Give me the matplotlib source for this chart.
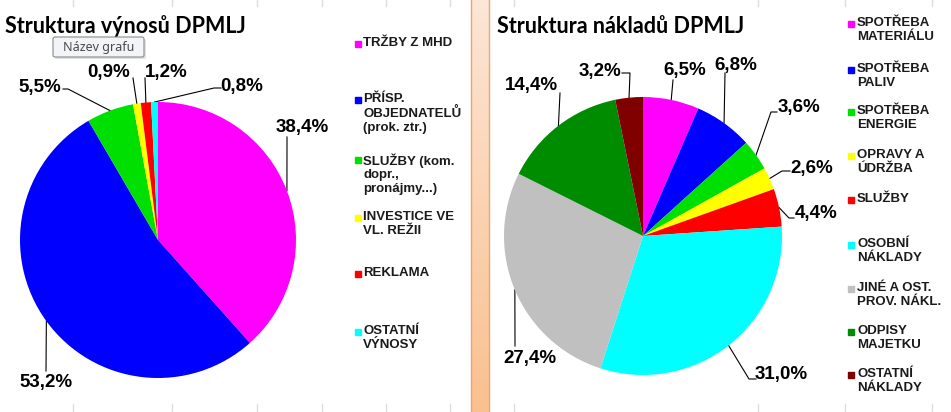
import numpy as np
import matplotlib
matplotlib.use("Agg")
import matplotlib.pyplot as plt
from matplotlib.patches import Rectangle, FancyBboxPatch

W, H = 951, 412

# data - levy graf (vynosy)
vynosy_kat = ["TRŽBY Z MHD", "PŘÍSP.\nOBJEDNATELŮ\n(prok. ztr.)",
              "SLUŽBY (kom.\ndopr.,\npronájmy...)", "INVESTICE VE\nVL. REŽII",
              "REKLAMA", "OSTATNÍ\nVÝNOSY"]
vynosy_hod = [38.4, 53.2, 5.5, 0.9, 1.2, 0.8]
vynosy_barvy = ["#FF00FF", "#0000FF", "#00E000", "#FFFF00", "#FF0000", "#00FFFF"]

# data - pravy graf (naklady)
naklady_kat = ["SPOTŘEBA\nMATERIÁLU", "SPOTŘEBA\nPALIV", "SPOTŘEBA\nENERGIE",
               "OPRAVY A\nÚDRŽBA", "SLUŽBY", "OSOBNÍ\nNÁKLADY",
               "JINÉ A OST.\nPROV. NÁKL.", "ODPISY\nMAJETKU", "OSTATNÍ\nNÁKLADY"]
naklady_hod = [6.5, 6.8, 3.6, 2.6, 4.4, 31.0, 27.4, 14.4, 3.2]
naklady_barvy = ["#FF00FF", "#0000FF", "#00E000", "#FFFF00", "#FF0000",
                 "#00FFFF", "#C0C0C0", "#008C00", "#800000"]

# pozice popisku v pixelech: (text x, text y, [body vodici cary od popisku])
vynosy_popisky = [
    (302, 127, [(287, 137)]),
    (46, 382, [(46, 371)]),
    (40, 87, [(63, 89), (68, 89)]),
    (109, 72, [(133, 78)]),
    (166, 72, [(145, 78)]),
    (242, 86, [(221, 88), (214, 88)]),
]
naklady_popisky = [
    (685, 70, [(673, 80)]),
    (736, 65, [(725, 73)]),
    (799, 107, [(777, 112), (771, 112)]),
    (812, 168, [(790, 171), (782, 171)]),
    (816, 213, [(794, 218), (789, 218)]),
    (781, 375, [(756, 379), (749, 379)]),
    (530, 358, [(515, 346)]),
    (531, 85, [(560, 93)]),
    (600, 71, [(622, 73), (630, 73)]),
]

fig = plt.figure(figsize=(W / 100, H / 100), dpi=100)
fig.patch.set_facecolor("white")
bg = fig.add_axes([0, 0, 1, 1])
bg.set_xlim(0, W)
bg.set_ylim(H, 0)
bg.axis("off")

# slabe mrizky tabulky nahore a dole
for gx in [73, 172, 257, 322, 386, 450, 514, 758, 845, 932]:
    bg.plot([gx, gx], [0, 6], color="#dedede", lw=1)
    bg.plot([gx, gx], [404, 412], color="#dedede", lw=1)

# oranzovy oddelovac s prechodem
grad = np.linspace(0, 1, 256).reshape(-1, 1)
cmap = matplotlib.colors.LinearSegmentedColormap.from_list("o", ["#FCE6D6", "#FAC08F"])
bg.imshow(grad, extent=(471, 489, H, 0), cmap=cmap, aspect="auto", zorder=1)
bg.plot([471, 471], [0, H], color="#F2A36C", lw=1, zorder=2)
bg.plot([489, 489], [0, H], color="#F2A36C", lw=1, zorder=2)


def kolac(cx, cy, r, hodnoty, barvy, popisky):
    ax = fig.add_axes([(cx - r) / W, (H - cy - r) / H, 2 * r / W, 2 * r / H])
    wedges, _ = ax.pie(hodnoty, colors=barvy, startangle=90, counterclock=False,
                       radius=1, wedgeprops=dict(linewidth=0))
    ax.set_xlim(-1, 1)
    ax.set_ylim(-1, 1)
    ax.axis("off")
    for w, v, (tx, ty, body) in zip(wedges, hodnoty, popisky):
        ang = np.deg2rad((w.theta1 + w.theta2) / 2)
        ex, ey = cx + r * np.cos(ang), cy - r * np.sin(ang)
        xs = [p[0] for p in body] + [ex]
        ys = [p[1] for p in body] + [ey]
        bg.plot(xs, ys, color="black", lw=0.8, zorder=5)
        txt = ("%.1f%%" % v).replace(".", ",")
        bg.text(tx, ty, txt, ha="center", va="center", fontsize=13.5,
                fontweight="bold", family="Liberation Sans", zorder=6)
    return ax


kolac(158, 240, 138, vynosy_hod, vynosy_barvy, vynosy_popisky)
kolac(643, 236, 139, naklady_hod, naklady_barvy, naklady_popisky)

# legendy
vynosy_y = [44, 100, 160, 218, 274, 332]
for kat, barva, ly in zip(vynosy_kat, vynosy_barvy, vynosy_y):
    bg.add_patch(Rectangle((355, ly - 3), 6, 6, color=barva, zorder=4))
    bg.text(363, ly - 7, kat, ha="left", va="top", fontsize=9.5,
            fontweight="bold", family="Liberation Sans", linespacing=1.2,
            color="#1a1a1a")

naklady_y = [24, 70, 112, 156, 200, 245, 289, 332, 375]
for kat, barva, ly in zip(naklady_kat, naklady_barvy, naklady_y):
    bg.add_patch(Rectangle((848, ly - 3), 6, 6, color=barva, zorder=4))
    bg.text(857, ly - 7, kat, ha="left", va="top", fontsize=9.5,
            fontweight="bold", family="Liberation Sans", linespacing=1.2,
            color="#1a1a1a")

# nadpisy
bg.text(5, 26, "Struktura výnosů DPMLJ", ha="left", va="center", fontsize=15.5,
        fontweight="bold", family="Lato", zorder=6)
bg.text(497, 26, "Struktura nákladů DPMLJ", ha="left", va="center", fontsize=15.5,
        fontweight="bold", family="Lato", zorder=6)

# tooltip "Nazev grafu"
bg.add_patch(FancyBboxPatch((55, 39), 91, 20, boxstyle="round,pad=0,rounding_size=2",
                            fc="#cfcfcf", ec="none", zorder=7, alpha=0.6))
bg.add_patch(FancyBboxPatch((53, 37), 91, 20, boxstyle="round,pad=0,rounding_size=2",
                            fc="#f3f4f8", ec="#8a8a8a", lw=0.8, zorder=8))
bg.text(98.5, 47, "Název grafu", ha="center", va="center", fontsize=9,
        family="Noto Sans", color="#4a4a4a", zorder=9)

fig.savefig("out.png", dpi=100)
